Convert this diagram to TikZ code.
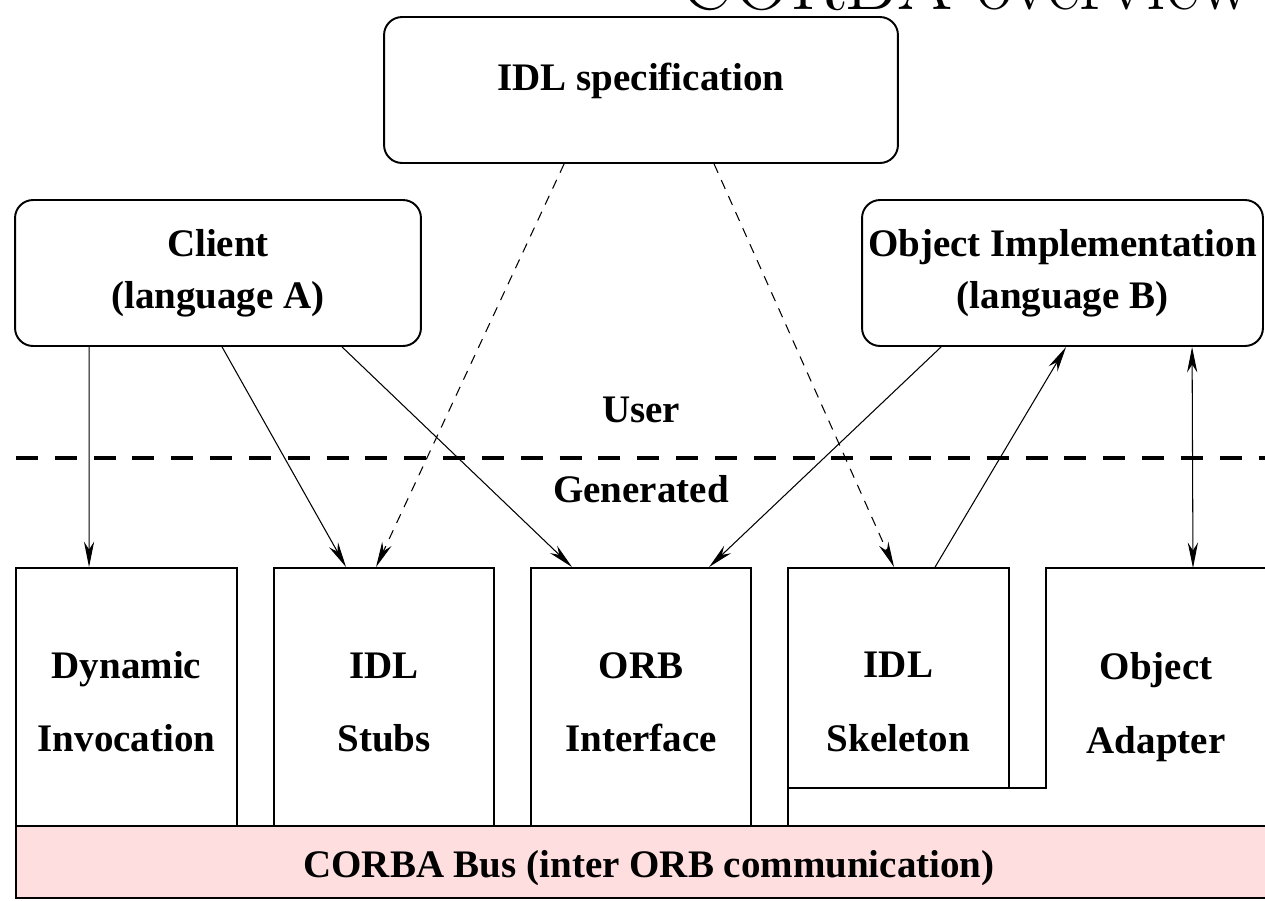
\documentclass[tikz,border=0pt]{standalone}
\usepackage{fontspec}
\usepackage{xcolor}
\newfontfamily\tnr{Liberation Serif Bold}
\usetikzlibrary{arrows.meta,calc}
\definecolor{buspink}{RGB}{255,222,224}

\begin{document}
\begin{tikzpicture}[x=0.02cm,y=-0.02cm,>={Stealth[length=14.5pt,width=5.8pt,inset=4.5pt]},
  txt/.style={font=\tnr\fontsize{22.2}{29.5}\selectfont,align=center,inner sep=0pt},
  tall/.style={font=\tnr\fontsize{22.2}{42}\selectfont},
  rbox/.style={txt,draw,line width=1.1pt,rounded corners=0.36cm,minimum height=2.92cm},
  sbox/.style={txt,tall,draw,line width=1.1pt,minimum width=4.4cm,minimum height=5.16cm,
    text height=62.4pt,text depth=0pt}]
\useasboundingbox (0,0) rectangle (1265,900);
\clip (0,0) rectangle (1265,900);

\node[anchor=base west,inner sep=0pt,font=\fontsize{45.3}{52}\selectfont] (Title) at (680,9) {CORBA overview};

\node[rbox,minimum width=10.28cm,text height=15pt,text depth=15pt] (Spec) at (641,90) {IDL specification};
\node[rbox,minimum width=8.12cm] (Client) at (218,273) {Client\\(language A)};
\node[rbox,minimum width=8.02cm] (Impl) at (1062.5,273) {Object Implementation\\(language B)};

\node[txt,anchor=base] (User) at (641,422) {User};
\node[txt,anchor=base] (Gen) at (641,502) {Generated};
\coordinate (SepL) at (16,458);
\coordinate (SepR) at (1265,458);
\draw[line width=2.8pt,dash pattern=on 12.5pt off 9.6pt] (SepL) -- (SepR);

\node[sbox,minimum width=4.42cm] (DI) at (126.5,697) {Dynamic\\Invocation};
\node[sbox] (Stub) at (384,697) {IDL\\Stubs};
\node[sbox] (ORB) at (641,697) {ORB\\Interface};
\node[sbox,minimum width=4.42cm,minimum height=4.4cm,text height=83.9pt] (Skel) at (898.5,678) {IDL\\Skeleton};

% object adapter wraps round the skeleton
\coordinate (Adpt) at (1046,568);
\draw[line width=1.1pt] (788,826) -- (788,788) -- (1046,788) -- (Adpt) -- (1290,568);
\node[txt,tall,anchor=north] (AdptTxt) at (1156,652) {Object\\Adapter};

\node[txt,draw,line width=1.1pt,fill=buspink,minimum width=25.32cm,minimum height=1.44cm,
  text height=18pt,text depth=0pt] (Bus) at (649,862) {CORBA Bus (inter ORB communication)};

\path[->,line width=0.6pt]
  ($(Client.south west)+(75,0)$)  edge ($(DI.north west)+(74,0)$)
  ($(Client.south west)+(208,0)$) edge ($(Stub.north west)+(73,0)$)
  ($(Client.south west)+(328,0)$) edge ($(ORB.north west)+(42,0)$)
  ($(Impl.south west)+(80,0)$)    edge ($(ORB.north west)+(179,0)$)
  ($(Skel.north west)+(148,0)$)   edge ($(Impl.south west)+(205,0)$);

\path[->,line width=0.6pt,dash pattern=on 5.5pt off 4.5pt]
  ($(Spec.south west)+(181,0)$) edge ($(Stub.north west)+(103,0)$)
  ($(Spec.south west)+(331,0)$) edge ($(Skel.north west)+(107,0)$);

\path[<->,line width=0.6pt]
  ($(Impl.south west)+(331,0)$) edge ($(Adpt)+(147,0)$);
\end{tikzpicture}
\end{document}
